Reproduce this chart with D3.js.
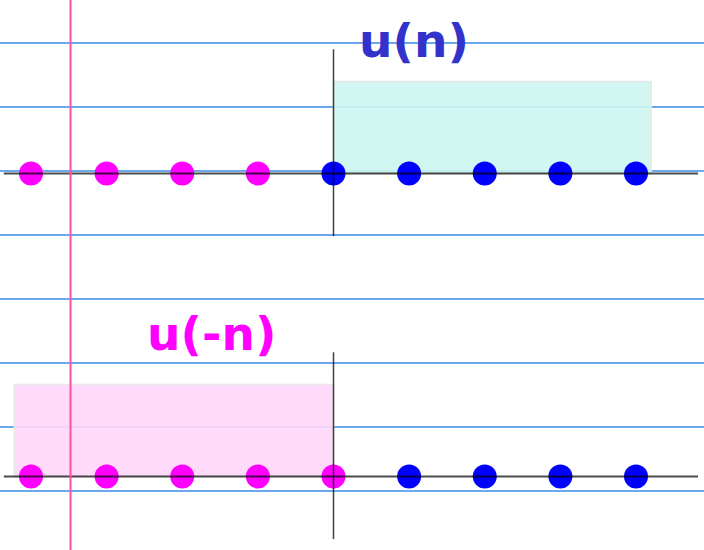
<!DOCTYPE html>
<html>
<head>
<meta charset="utf-8">
<script src="https://cdn.jsdelivr.net/npm/d3@7"></script>
<style>
  html, body { margin: 0; padding: 0; background: #fff; }
  svg { display: block; }
</style>
</head>
<body>
<div id="chart"></div>
<script>
// sample indices and the two step sequences
var nValues = [-4, -3, -2, -1, 0, 1, 2, 3, 4];
var uN = [0, 0, 0, 0, 1, 1, 1, 1, 1];
var uMinusN = [1, 1, 1, 1, 1, 0, 0, 0, 0];
// shaded region where each sequence equals 1 (in n units)
var uNSpan = [0, 4.2];
var uMinusNSpan = [-4.22, 0];
var seriesLabels = ['u(n)', 'u(-n)'];

var width = 704, height = 550;
var svg = d3.select('#chart').append('svg')
    .attr('width', width)
    .attr('height', height);

// notebook paper
var ruleYs = d3.range(8).map(function (i) { return 43 + i * 64; });
svg.append('g').selectAll('line')
    .data(ruleYs)
    .enter().append('line')
    .attr('x1', 0).attr('x2', width)
    .attr('y1', function (d) { return d; })
    .attr('y2', function (d) { return d; })
    .attr('stroke', '#3d8be6')
    .attr('stroke-width', 1.4);

var x = d3.scaleLinear().domain([-4, 4]).range([31, 636]);
var panels = [
    { label: seriesLabels[0], values: uN, span: uNSpan, base: 173.5,
      on: '#0000ff', off: '#ff00ff', fill: '#cdf5f0', text: '#3333cc', tx: 359, ty: 57 },
    { label: seriesLabels[1], values: uMinusN, span: uMinusNSpan, base: 476.5,
      on: '#ff00ff', off: '#0000ff', fill: '#ffd6fb', text: '#ff00ff', tx: 147, ty: 350 }
];

panels.forEach(function (p) {
    var y = d3.scaleLinear().domain([0, 1]).range([p.base, p.base - 92]);
    var g = svg.append('g');

    g.append('rect')
        .attr('x', x(p.span[0]))
        .attr('y', y(1))
        .attr('width', x(p.span[1]) - x(p.span[0]))
        .attr('height', y(0) - y(1))
        .attr('fill', p.fill)
        .attr('fill-opacity', 0.9)
        .attr('stroke', '#e6e6e6')
        .attr('stroke-width', 1.5);

    g.selectAll('circle')
        .data(nValues)
        .enter().append('circle')
        .attr('cx', function (d) { return x(d); })
        .attr('cy', y(0))
        .attr('r', 12)
        .attr('fill', function (d, i) { return p.values[i] ? p.on : p.off; });

    // axes drawn over the samples
    g.append('line')
        .attr('x1', x(-4.36)).attr('x2', x(4.82))
        .attr('y1', y(0)).attr('y2', y(0))
        .attr('stroke', '#000').attr('stroke-opacity', 0.7)
        .attr('stroke-width', 2);
    g.append('line')
        .attr('x1', x(0)).attr('x2', x(0))
        .attr('y1', y(1.35)).attr('y2', y(-0.68))
        .attr('stroke', '#000').attr('stroke-opacity', 0.75)
        .attr('stroke-width', 1.5);

    g.append('text')
        .attr('x', p.tx).attr('y', p.ty)
        .attr('font-family', 'DejaVu Sans')
        .attr('font-weight', 'bold')
        .attr('font-size', 47)
        .attr('fill', p.text)
        .text(p.label);
});

// margin line
svg.append('line')
    .attr('x1', 70.5).attr('x2', 70.5)
    .attr('y1', 0).attr('y2', height)
    .attr('stroke', '#ff4fa3')
    .attr('stroke-width', 2);
</script>
</body>
</html>
